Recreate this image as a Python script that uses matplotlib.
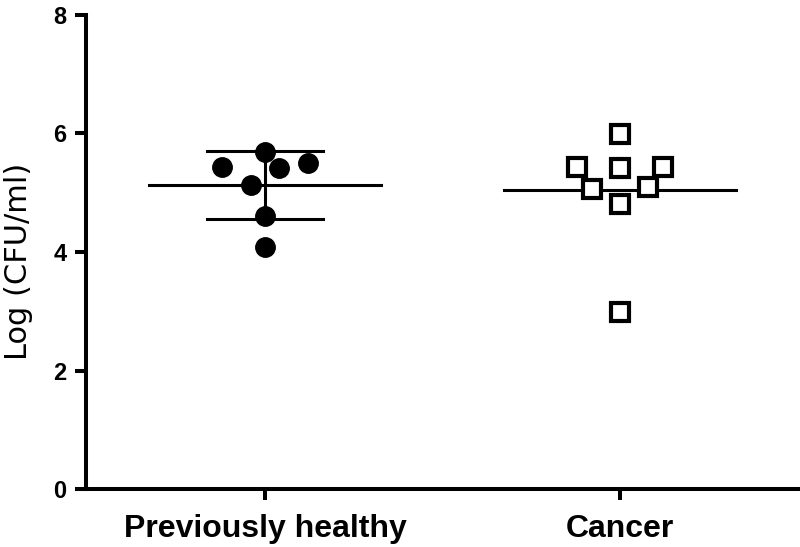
import matplotlib
matplotlib.use("Agg")
import matplotlib.pyplot as plt
import numpy as np

# === Données ===
groups = ["Previously healthy", "Cancer"]
healthy_x = [-0.12, 0.0, 0.04, 0.12, -0.04, 0.0, 0.0]
healthy_y = [5.44, 5.69, 5.42, 5.50, 5.13, 4.61, 4.09]
cancer_x = [0.0, -0.12, 0.0, 0.12, -0.08, 0.08, 0.0, 0.0]
cancer_y = [5.99, 5.43, 5.42, 5.43, 5.06, 5.10, 4.81, 2.98]
group_means = [5.13, 5.05]
healthy_sd = 0.57
y_ticks = [0, 2, 4, 6, 8]

plt.rcParams['font.family'] = ['Liberation Sans', 'DejaVu Sans']

fig = plt.figure(figsize=(8, 5.47), dpi=100)
ax = fig.add_axes([0.1075, 0.106, 0.8925, 0.8666])

lw = 2.2
# points
ax.plot(np.array(healthy_x), healthy_y, 'o', color='black', markersize=14, zorder=3)
ax.plot(1 + np.array(cancer_x), cancer_y, 's', markerfacecolor='white',
        markeredgecolor='black', markeredgewidth=3, markersize=13.5, zorder=3)

# moyennes
half = 0.327
for i, m in enumerate(group_means):
    ax.plot([i - half, i + half], [m, m], color='black', lw=lw, zorder=2)

# écart-type (groupe sain)
cap = 0.163
m0 = group_means[0]
ax.plot([0, 0], [m0 - healthy_sd, m0 + healthy_sd], color='black', lw=lw, zorder=2)
for yv in (m0 - healthy_sd, m0 + healthy_sd):
    ax.plot([-cap, cap], [yv, yv], color='black', lw=lw, zorder=2)

ax.set_xlim(-0.504, 1.507)
ax.set_ylim(0, 8)
ax.set_yticks(y_ticks)
ax.set_yticklabels([str(t) for t in y_ticks], fontsize=17, fontweight='bold')
ax.set_xticks([0, 1])
ax.set_xticklabels(groups, fontsize=23, fontweight='bold')
ax.set_ylabel("Log (CFU/ml)", fontsize=22, family='DejaVu Sans')
ax.yaxis.set_label_coords(-0.074, 0.48)

for s in ['top', 'right']:
    ax.spines[s].set_visible(False)
for s in ['left', 'bottom']:
    ax.spines[s].set_linewidth(2.9)
ax.tick_params(axis='both', width=2.9, length=8, direction='out')
ax.tick_params(axis='x', pad=10)
ax.tick_params(axis='y', pad=6)

fig.savefig("out.png", dpi=100)
